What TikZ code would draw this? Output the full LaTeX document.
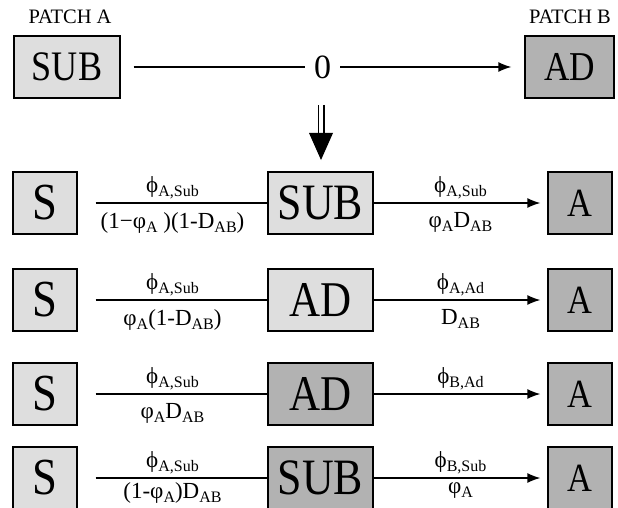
\documentclass[tikz,border=0pt]{standalone}
\usepackage{fontspec}
\setmainfont{Liberation Serif}
\usepackage{graphicx}
\usetikzlibrary{arrows.meta}

\newcommand{\sbs}[1]{\raisebox{-0.4ex}{\fontsize{16}{16}\selectfont #1}}
\newcommand{\boxtxt}[2]{\scalebox{0.86}[1]{\fontsize{#1}{#1}\selectfont #2}}

\tikzset{
  lightbox/.style={draw, line width=1.3pt, fill=black!13, minimum height=62pt, inner sep=0pt},
  darkbox/.style={lightbox, fill=black!30},
  rate/.style={font=\fontsize{23}{25}\selectfont, inner sep=2pt},
  ratetop/.style={rate, above=1pt},
  ratebot/.style={rate, below=7pt},
  ratelow/.style={rate, inner sep=0pt, below=4pt},
  patch/.style={font=\fontsize{20.5}{21}\selectfont},
}

\begin{document}
\begin{tikzpicture}[x=1pt, y=-1pt, >={Latex[length=13pt,width=10pt]}, line width=1.3pt]
   \useasboundingbox (0,0) rectangle (618,508);

   \node[patch] (pa) at (70,17) {PATCH A};
   \node[patch] (pb) at (570,17) {PATCH B};
   \node[lightbox, minimum width=106pt] (subA) at (67,67) {\boxtxt{42}{SUB}};
   \node[darkbox, minimum width=89pt] (adB) at (569.5,67) {\boxtxt{41}{AD}};
   \draw [->, shorten <=13pt, shorten >=13pt] (subA) -- node[fill=white, inner sep=9pt, font=\fontsize{34}{34}\selectfont] (zero) {0} (adB);

   \coordinate (d1) at (321,105);
   \coordinate (d2) at (321,160);
   \draw [line width=1.5pt, double distance=4pt] (d1) -- ([yshift=26pt]d2);
   \fill (d2) -- ++(-12,-27) -- ++(24,0) -- cycle;

   \node[lightbox, minimum width=64pt] (s1) at (45,203) {\boxtxt{52}{S}};
   \node[lightbox, minimum width=105pt] (m1) at (320.5,203) {\boxtxt{51}{SUB}};
   \node[darkbox, minimum width=64pt] (a1) at (580,203) {\boxtxt{40}{A}};
   \draw [shorten <=18pt] (s1) -- node[ratetop] {ϕ\sbs{A,Sub}} node[ratebot] {(1−φ\sbs{A} )(1-D\sbs{AB})} (m1);
   \draw [->, shorten >=7pt] (m1) -- node[ratetop] {ϕ\sbs{A,Sub}} node[ratebot] {φ\sbs{A}D\sbs{AB}} (a1);

   \node[lightbox, minimum width=64pt] (s2) at (45,300) {\boxtxt{52}{S}};
   \node[lightbox, minimum width=105pt] (m2) at (320.5,300) {\boxtxt{50}{AD}};
   \node[darkbox, minimum width=64pt] (a2) at (580,300) {\boxtxt{40}{A}};
   \draw [shorten <=18pt] (s2) -- node[ratetop] {ϕ\sbs{A,Sub}} node[ratebot] {φ\sbs{A}(1-D\sbs{AB})} (m2);
   \draw [->, shorten >=7pt] (m2) -- node[ratetop] {ϕ\sbs{A,Ad}} node[ratebot] {D\sbs{AB}} (a2);

   \node[lightbox, minimum width=64pt] (s3) at (45,394) {\boxtxt{52}{S}};
   \node[darkbox, minimum width=105pt] (m3) at (320.5,394) {\boxtxt{50}{AD}};
   \node[darkbox, minimum width=64pt] (a3) at (580,394) {\boxtxt{40}{A}};
   \draw [shorten <=18pt] (s3) -- node[ratetop] {ϕ\sbs{A,Sub}} node[ratebot] {φ\sbs{A}D\sbs{AB}} (m3);
   \draw [->, shorten >=7pt] (m3) -- node[ratetop] {ϕ\sbs{B,Ad}} (a3);

   \node[lightbox, minimum width=64pt] (s4) at (45,478) {\boxtxt{52}{S}};
   \node[darkbox, minimum width=105pt] (m4) at (320.5,478) {\boxtxt{51}{SUB}};
   \node[darkbox, minimum width=64pt] (a4) at (580,478) {\boxtxt{40}{A}};
   \draw [shorten <=18pt] (s4) -- node[ratetop] {ϕ\sbs{A,Sub}} node[ratelow] {(1-φ\sbs{A})D\sbs{AB}} (m4);
   \draw [->, shorten >=7pt] (m4) -- node[ratetop] {ϕ\sbs{B,Sub}} node[ratelow] {φ\sbs{A}} (a4);
 \end{tikzpicture}
\end{document}
